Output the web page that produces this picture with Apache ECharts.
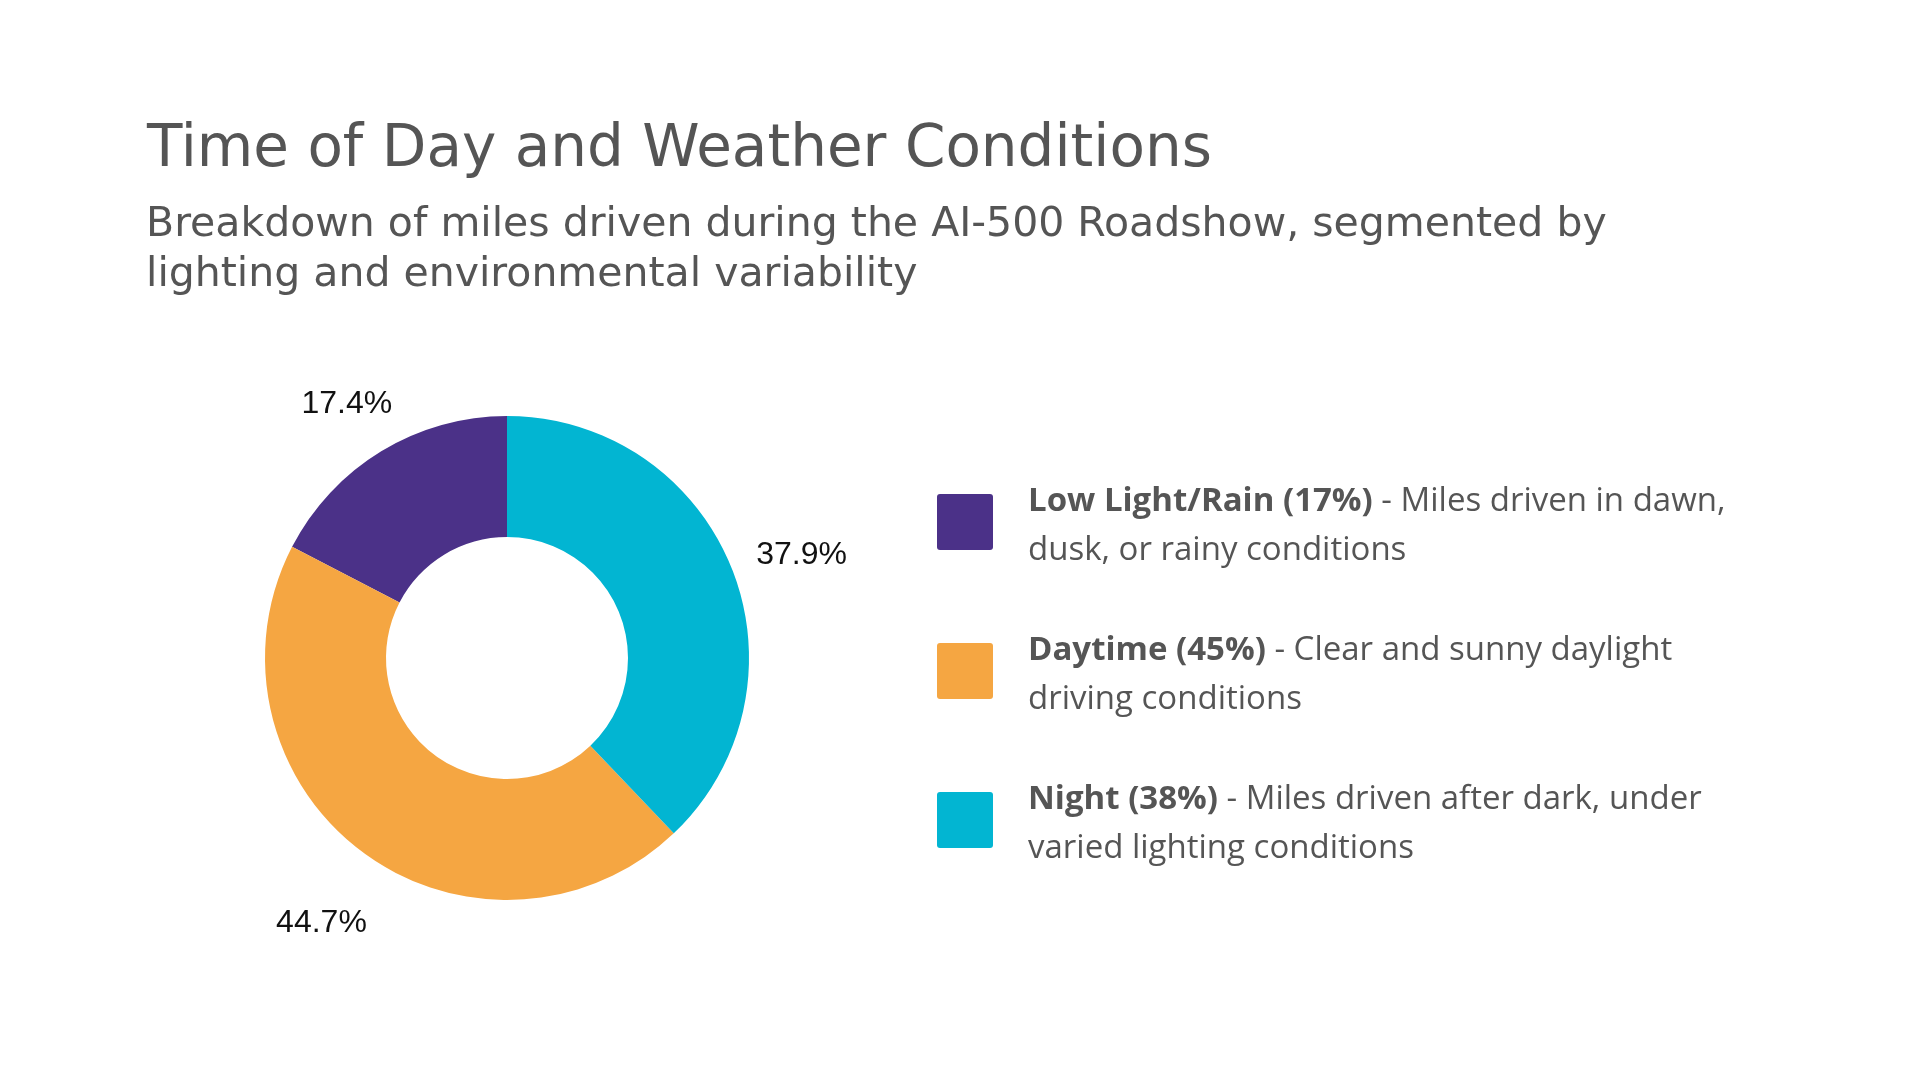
<!DOCTYPE html>
<html>
<head>
<meta charset="utf-8">
<title>Time of Day and Weather Conditions</title>
<script src="https://cdn.jsdelivr.net/npm/echarts@6/dist/echarts.min.js"></script>
<style>
	html, body { margin: 0; padding: 0; background: #fff; }
	#chart { width: 1920px; height: 1072px; }
</style>
</head>
<body>
<div id="chart"></div>

<script type="text/javascript">

	// chart data
	var categories = ['Low Light/Rain', 'Daytime', 'Night'];
	var shares = [17.4, 44.7, 37.9];
	var legendTitles = ['Low Light/Rain (17%)', 'Daytime (45%)', 'Night (38%)'];
	var legendLine1 = [' - Miles driven in dawn,', ' - Clear and sunny daylight', ' - Miles driven after dark, under'];
	var legendLine2 = ['dusk, or rainy conditions', 'driving conditions', 'varied lighting conditions'];
	var colors = ['#4b3188', '#f5a642', '#02b5d2'];

	var textColor = '#555555';
	var center = [507, 658];
	// square with small rounded corners for the legend
	var squareIcon = 'path://M3,0H53Q56,0,56,3V53Q56,56,53,56H3Q0,56,0,53V3Q0,0,3,0Z';

	var chart = echarts.init(document.getElementById('chart'));
	chart.setOption({
		animation: false,
		title: [
			{
				text: 'Time of Day and Weather Conditions',
				left: 147,
				top: 116,
				padding: 0,
				textStyle: {
					fontFamily: 'DejaVu Sans',
					fontSize: 58,
					fontWeight: 'normal',
					lineHeight: 70,
					color: textColor
				}
			},
			{
				text: 'Breakdown of miles driven during the AI-500 Roadshow, segmented by\nlighting and environmental variability',
				left: 146,
				top: 200,
				padding: 0,
				textStyle: {
					fontFamily: 'DejaVu Sans',
					fontSize: 41,
					fontWeight: 'normal',
					lineHeight: 50,
					color: textColor
				}
			}
		],
		legend: {
			orient: 'vertical',
			left: 937,
			top: 485,
			padding: 0,
			itemWidth: 56,
			itemHeight: 56,
			itemGap: 67,
			icon: squareIcon,
			selectedMode: false,
			data: categories.map(function (name, i) {
				return { name: name, itemStyle: { color: colors[i] } };
			}),
			formatter: function (name) {
				var i = categories.indexOf(name);
				return '{b|' + legendTitles[i] + '}{n|' + legendLine1[i] + '}\n{n|' + legendLine2[i] + '}';
			},
			textStyle: {
				padding: [8, 0, 0, 30],
				rich: {
					b: { fontFamily: 'Open Sans', fontSize: 33, fontWeight: 'bold', color: textColor, lineHeight: 49 },
					n: { fontFamily: 'Open Sans', fontSize: 33, fontWeight: 'normal', color: textColor, lineHeight: 49 }
				}
			}
		},
		series: [
			{
				name: 'Miles',
				type: 'pie',
				center: center,
				radius: [121, 242],
				startAngle: 90,
				clockwise: false,
				silent: true,
				label: { show: false },
				labelLine: { show: false },
				data: categories.map(function (name, i) {
					return { name: name, value: shares[i], itemStyle: { color: colors[i] } };
				})
			},
			{
				// transparent ring that only carries the percentage labels
				name: 'Labels',
				type: 'pie',
				center: center,
				radius: [300, 322],
				startAngle: 90,
				clockwise: false,
				silent: true,
				itemStyle: { color: 'rgba(0,0,0,0)' },
				label: {
					show: true,
					position: 'inside',
					offset: [3, 14],
					fontFamily: 'Liberation Sans',
					fontSize: 32,
					color: '#111111',
					formatter: function (p) { return p.value.toFixed(1) + '%'; }
				},
				labelLine: { show: false },
				data: categories.map(function (name, i) {
					return { name: name, value: shares[i], itemStyle: { color: 'rgba(0,0,0,0)' } };
				})
			}
		]
	});

</script>
</body>
</html>
